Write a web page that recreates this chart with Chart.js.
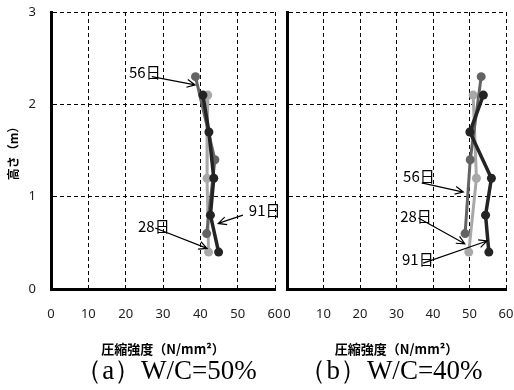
<!DOCTYPE html>
<html>
<head>
<meta charset="utf-8">
<script src="https://cdn.jsdelivr.net/npm/chart.js@4/dist/chart.umd.min.js"></script>
<style>
  body { margin: 0; background: #fff; width: 514px; height: 390px; position: relative; overflow: hidden; }
  canvas { position: absolute; top: 0; }
  #chartA { left: 0; }
  #chartB { left: 276px; }
  .cap {
    position: absolute; top: 355px; width: 240px; text-align: center;
    font-family: "Liberation Serif", "DejaVu Serif", serif; font-size: 27px; line-height: 30px;
    color: #000; white-space: nowrap;
  }
</style>
</head>
<body>
<canvas id="chartA" width="285" height="360"></canvas>
<canvas id="chartB" width="238" height="360"></canvas>
<div class="cap" style="left:46px">（a）W/C=50%</div>
<div class="cap" style="left:271px">（b）W/C=40%</div>

<script>
// ===================================
// DATA
// ===================================

const seriesNames = ['28日', '56日', '91日'];

// heights (m)
const heights28 = [2.1, 1.2, 0.4];
const heights56 = [2.3, 1.4, 0.6];
const heights91 = [2.1, 1.7, 1.2, 0.8, 0.4];

// (a) W/C=50%  compressive strength (N/mm2)
const strengthA28 = [42.0, 41.8, 42.2];
const strengthA56 = [38.7, 43.9, 41.7];
const strengthA91 = [40.7, 42.3, 43.6, 42.7, 44.9];

// (b) W/C=40%
const strengthB28 = [51.0, 51.9, 49.8];
const strengthB56 = [53.2, 50.2, 48.8];
const strengthB91 = [53.8, 50.1, 56.0, 54.4, 55.3];

const xTicks = [0, 10, 20, 30, 40, 50, 60];
const yTicks = [0, 1, 2, 3];

// callouts: label position, arrow start, arrow end (data units)
const notesA = [
  { label: '56日', at: [20.9, 2.35], from: [27.0, 2.30], to: [38.6, 2.21] },
  { label: '28日', at: [23.3, 0.68], from: [27.9, 0.66], to: [41.8, 0.44] },
  { label: '91日', at: [53.0, 0.85], from: [51.4, 0.80], to: [44.8, 0.71] }
];
const notesB = [
  { label: '56日', at: [31.8, 1.22], from: [36.9, 1.15], to: [48.3, 1.05] },
  { label: '28日', at: [31.0, 0.79], from: [36.0, 0.77], to: [48.7, 0.49] },
  { label: '91日', at: [31.5, 0.32], from: [37.3, 0.28], to: [54.8, 0.52] }
];

// ===================================
// HELPERS
// ===================================

const colors = ['#a8a8a8', '#636363', '#242424'];

function toPoints(xs, ys) {
  return xs.map((v, i) => ({ x: v, y: ys[i] }));
}

function makeDataset(idx, xs, ys) {
  return {
    label: seriesNames[idx],
    data: toPoints(xs, ys),
    showLine: true,
    borderColor: colors[idx],
    backgroundColor: colors[idx],
    borderWidth: idx === 2 ? 3.5 : 3,
    pointRadius: 4.5,
    pointBorderWidth: 0,
    tension: 0,
    order: 2 - idx
  };
}

function notesPlugin(notes) {
  return {
    id: 'notes',
    afterDatasetsDraw(chart) {
      const { ctx, scales: { x, y } } = chart;
      ctx.save();
      ctx.font = '15px "Noto Sans CJK JP"';
      ctx.fillStyle = '#000';
      ctx.strokeStyle = '#000';
      ctx.lineWidth = 1.2;
      ctx.textBaseline = 'middle';
      notes.forEach(n => {
        ctx.fillText(n.label, x.getPixelForValue(n.at[0]), y.getPixelForValue(n.at[1]));
        const x0 = x.getPixelForValue(n.from[0]), y0 = y.getPixelForValue(n.from[1]);
        const x1 = x.getPixelForValue(n.to[0]), y1 = y.getPixelForValue(n.to[1]);
        const ang = Math.atan2(y1 - y0, x1 - x0);
        const head = 9;
        ctx.beginPath();
        ctx.moveTo(x0, y0);
        ctx.lineTo(x1, y1);
        ctx.moveTo(x1 - head * Math.cos(ang - 0.45), y1 - head * Math.sin(ang - 0.45));
        ctx.lineTo(x1, y1);
        ctx.lineTo(x1 - head * Math.cos(ang + 0.45), y1 - head * Math.sin(ang + 0.45));
        ctx.stroke();
      });
      ctx.restore();
    }
  };
}

function makeChart(id, ds, notes, showY) {
  const tickFont = { family: '"Noto Sans", sans-serif', size: 13 };
  return new Chart(document.getElementById(id), {
    type: 'scatter',
    data: { datasets: ds },
    options: {
      responsive: false,
      animation: false,
      layout: { padding: { top: 12, right: showY ? 10 : 8, left: 0, bottom: 0 } },
      plugins: { legend: { display: false }, tooltip: { enabled: false } },
      scales: {
        x: {
          min: xTicks[0], max: xTicks[xTicks.length - 1],
          afterBuildTicks: s => { s.ticks = xTicks.map(v => ({ value: v })); },
          // fixed axis height, no automatic label overhang padding
          afterFit: s => { s.height = 71; s.paddingLeft = 0; s.paddingRight = 0; },
          ticks: { font: tickFont, color: '#222', padding: 17, maxRotation: 0 },
          grid: { color: '#000', lineWidth: 1, drawTicks: false },
          border: { color: '#000', width: 3, dash: [4, 3] },
          title: {
            display: true, text: '圧縮強度（N/mm²）', color: '#000',
            font: { family: '"Noto Sans CJK JP"', size: 13, weight: 'bold' },
            padding: { top: 0, bottom: 3 }
          }
        },
        y: {
          min: yTicks[0], max: yTicks[yTicks.length - 1],
          afterBuildTicks: s => { s.ticks = yTicks.map(v => ({ value: v })); },
          afterFit: s => { s.width = showY ? 51 : 11; s.paddingTop = 0; s.paddingBottom = 0; },
          ticks: { display: showY, font: tickFont, color: '#222', padding: 15 },
          grid: { color: '#000', lineWidth: 1, drawTicks: false },
          border: { color: '#000', width: 3, dash: [4, 3] },
          title: {
            display: showY, text: '高さ（m）', color: '#000',
            font: { family: '"Noto Sans CJK JP"', size: 12, weight: 'bold' },
            padding: { top: 6, bottom: 0 }
          }
        }
      }
    },
    plugins: [notesPlugin(notes)]
  });
}

// ===================================
// CHARTS
// ===================================

makeChart('chartA', [
  makeDataset(0, strengthA28, heights28),
  makeDataset(1, strengthA56, heights56),
  makeDataset(2, strengthA91, heights91)
], notesA, true);

makeChart('chartB', [
  makeDataset(0, strengthB28, heights28),
  makeDataset(1, strengthB56, heights56),
  makeDataset(2, strengthB91, heights91)
], notesB, false);
</script>
</body>
</html>
